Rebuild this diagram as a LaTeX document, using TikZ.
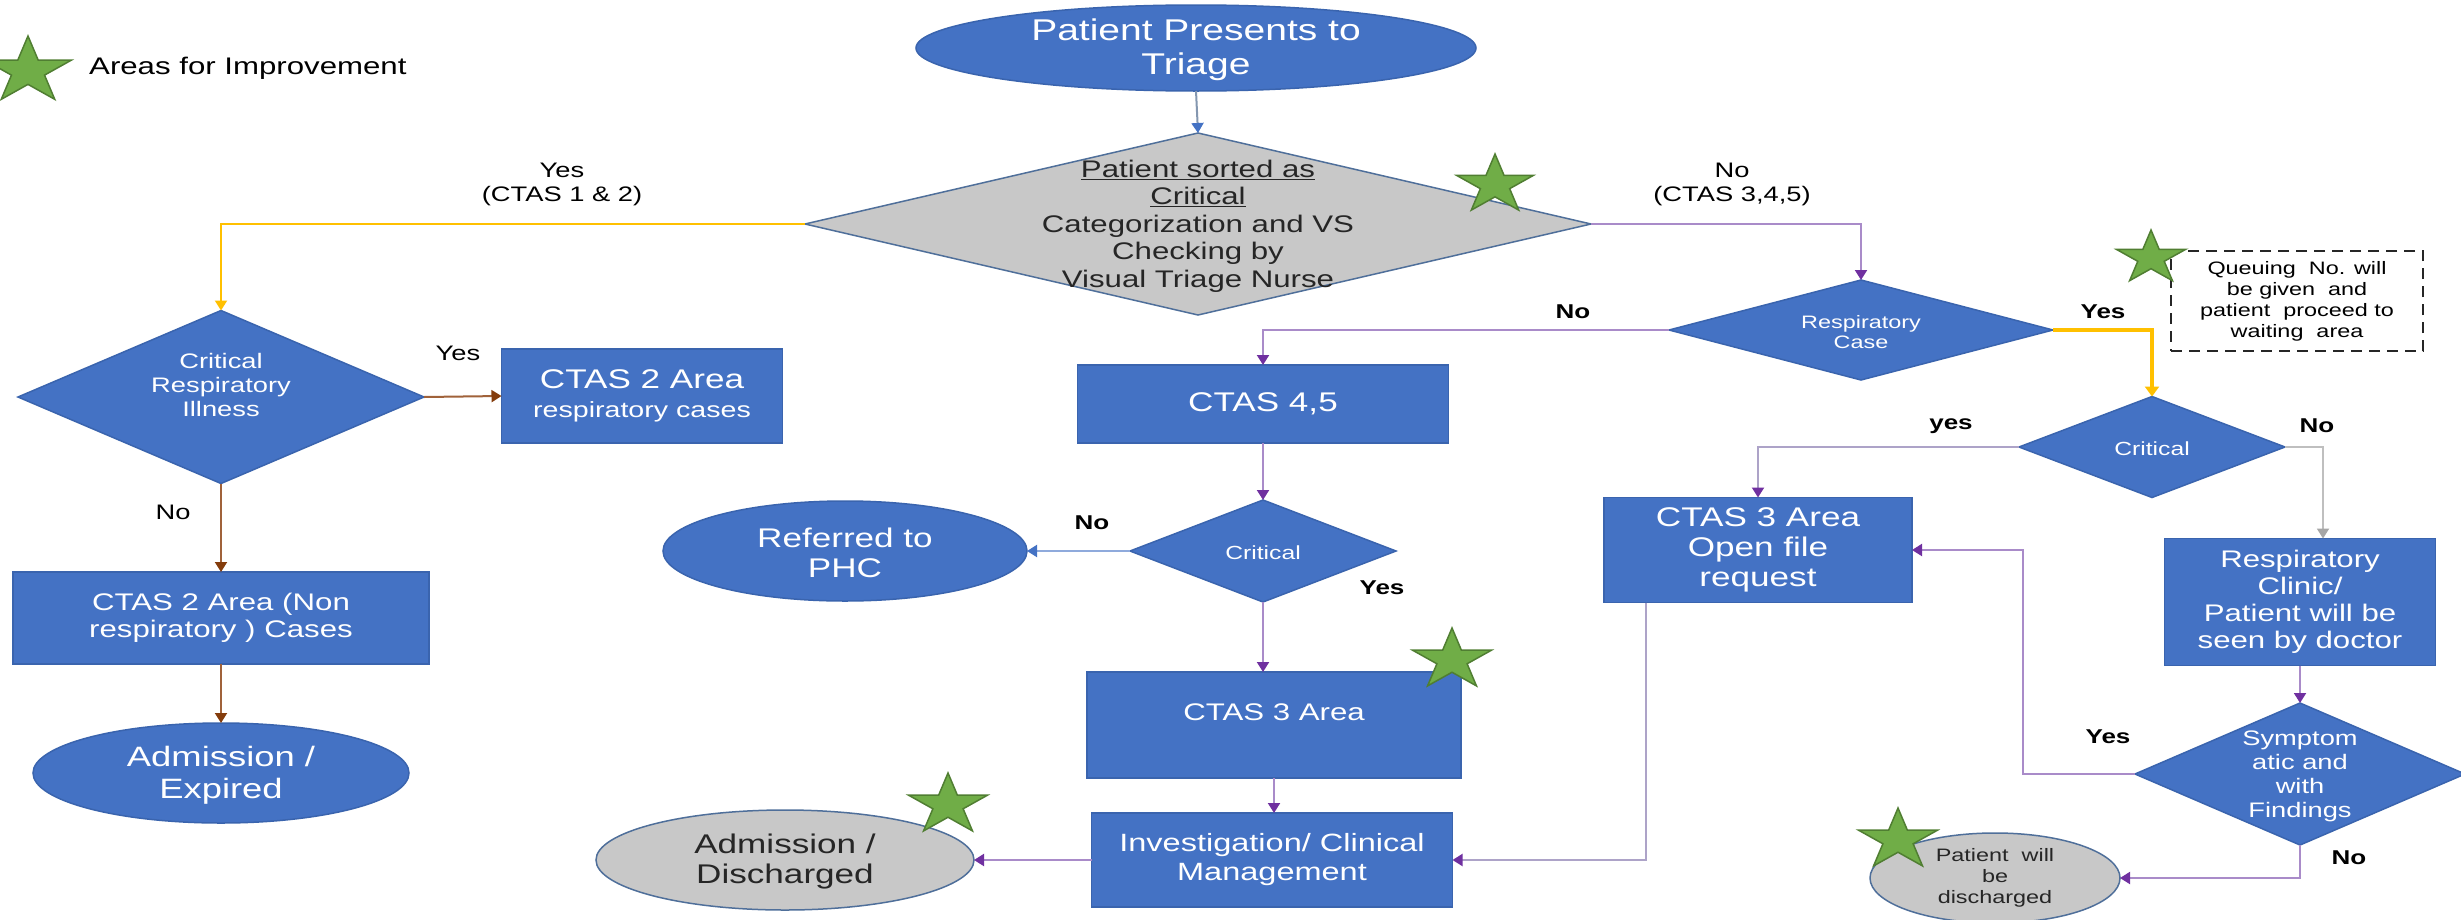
\documentclass[tikz,border=0pt]{standalone}
\usepackage{fontspec}
\setmainfont{Liberation Sans}[FakeStretch=1.3]
\usetikzlibrary{shapes.geometric,arrows.meta,calc}
\definecolor{boxblue}{HTML}{4472C4}
\definecolor{boxedge}{HTML}{3A64AE}
\definecolor{grayfill}{HTML}{C8C8C8}
\definecolor{grayedge}{HTML}{4F6F9A}
\definecolor{stargreen}{HTML}{70AD47}
\definecolor{staredge}{HTML}{507E32}
\definecolor{yel}{HTML}{FFC000}
\definecolor{brn}{HTML}{A0623A}
\definecolor{brntip}{HTML}{843C0C}
\definecolor{purp}{HTML}{A98BC9}
\definecolor{purptip}{HTML}{7030A0}
\definecolor{gpurp}{HTML}{ADA3C8}
\definecolor{lblue}{HTML}{8FAADC}
\definecolor{bgray}{HTML}{8497B0}
\definecolor{lgray}{HTML}{BFBFBF}
\definecolor{gtip}{HTML}{A6A6A6}
\definecolor{darktext}{HTML}{262626}
\newcommand\fsz[2]{\fontsize{#1bp}{#2bp}\selectfont}
\newcommand\gstar[4]{%
  \begin{scope}[shift={(#2,#3)}, xscale=1.3]
    \node[star, star points=5, star point ratio=2.618, minimum size=#4bp,
      fill=stargreen, draw=staredge, line width=1.5bp, inner sep=0pt,
      transform shape] (#1) at (0,0) {};
  \end{scope}}
\begin{document}
\begin{tikzpicture}[x=1bp,y=-1bp,
  shp/.style={inner sep=0pt, outer sep=0pt, line width=1.5bp},
  bluebox/.style={shp, rectangle, fill=boxblue, draw=boxedge, text=white, align=center},
  bluediam/.style={shp, diamond, fill=boxblue, draw=boxedge},
  blueell/.style={shp, ellipse, fill=boxblue, draw=boxedge},
  grayell/.style={shp, ellipse, fill=grayfill, draw=grayedge},
  graydiam/.style={shp, diamond, fill=grayfill, draw=grayedge},
  wtxt/.style={text=white, align=center, inner sep=0pt},
  dtxt/.style={text=darktext, align=center, inner sep=0pt},
  lab/.style={text=black, align=center, inner sep=0pt, font=\fsz{21}{24}},
  blab/.style={text=black, inner sep=0pt, font=\bfseries\fsz{20}{23}},
  conn/.style={line width=2bp},
  purparrow/.style={conn, draw=purp, -{Triangle[length=10bp,width=12bp,color=purptip]}},
  gpurparrow/.style={conn, draw=gpurp, -{Triangle[length=10bp,width=12bp,color=purptip]}},
  brnarrow/.style={conn, draw=brn, -{Triangle[length=10bp,width=12bp,color=brntip]}},
  yelarrow/.style={conn, draw=yel, -{Triangle[length=10bp,width=12bp,color=yel]}},
  yelthick/.style={line width=4bp, draw=yel, -{Triangle[length=10bp,width=14bp,color=yel]}},
  bluearrow/.style={conn, draw=bgray, -{Triangle[length=10bp,width=12bp,color=boxblue]}},
  lbluearrow/.style={conn, draw=lblue, -{Triangle[length=10bp,width=12bp,color=boxblue]}},
  grayarrow/.style={conn, draw=lgray, -{Triangle[length=10bp,width=12bp,color=gtip]}},
]
\fill[white] (0,0) rectangle (2461,919);
\useasboundingbox (0,0) rectangle (2461,919);

% ---------- shapes ----------
\node[blueell, minimum width=560bp, minimum height=86bp] (top) at (1196,48) {};
\node[wtxt, font=\fsz{30}{34}] (topT) at (1196,50) {Patient Presents to\\Triage};

\node[graydiam, minimum width=786bp, minimum height=182bp] (sort) at (1198,224) {};
\node[dtxt, font=\fsz{24}{27.5}] (sortT) at (1198,226) {\underline{Patient sorted as}\\\underline{Critical}\\Categorization and VS\\Checking by\\Visual Triage Nurse};

\node[bluediam, minimum width=406bp, minimum height=173bp] (cri) at (221,397) {};
\node[wtxt, font=\fsz{21}{24}] (criT) at (221,385) {Critical\\Respiratory\\Illness};

\node[bluebox, minimum width=281bp, minimum height=94bp, font=\fsz{22}{29}] (c2r) at (642,396)
  {{\fsz{27}{30}CTAS 2 Area}\\respiratory cases};

\node[bluebox, minimum width=416bp, minimum height=92bp, font=\fsz{24}{27}] (c2n) at (221,618)
  {CTAS 2 Area (Non\\respiratory ) Cases};

\node[blueell, minimum width=376bp, minimum height=100bp] (adex) at (221,773) {};
\node[wtxt, font=\fsz{28}{32}] (adexT) at (221,775) {Admission /\\Expired};

\node[bluebox, minimum width=371bp, minimum height=78bp, font=\fsz{27}{30}] (c45) at (1263,404) {CTAS 4,5};

\node[bluediam, minimum width=266bp, minimum height=102bp] (crit1) at (1263,551) {};
\node[wtxt, font=\fsz{19}{22}] (crit1T) at (1263,553) {Critical};

\node[blueell, minimum width=364bp, minimum height=100bp] (phc) at (845,551) {};
\node[wtxt, font=\fsz{27}{30}] (phcT) at (845,553) {Referred to\\PHC};

\node[bluebox, minimum width=374bp, minimum height=106bp] (c3) at (1274,725) {};
\node[wtxt, font=\fsz{24}{27}] (c3T) at (1274,712) {CTAS 3 Area};

\node[bluebox, minimum width=361bp, minimum height=94bp, font=\fsz{25}{29}] (inv) at (1272,860)
  {Investigation/ Clinical\\Management};

\node[grayell, minimum width=378bp, minimum height=100bp] (addis) at (785,860) {};
\node[dtxt, font=\fsz{27}{30}] (addisT) at (785,862) {Admission /\\Discharged};

\node[bluediam, minimum width=384bp, minimum height=100bp] (resp) at (1861,330) {};
\node[wtxt, font=\fsz{18}{20}] (respT) at (1861,332) {Respiratory\\Case};

\node[shp, rectangle, draw=black!85, line width=2.5bp, dash pattern=on 11bp off 7bp,
  minimum width=252bp, minimum height=100bp, align=center, font=\fsz{18}{21}] (queue) at (2297,301)
  {Queuing~ No. will\\be given~ and\\patient~ proceed to\\waiting~ area};

\node[bluediam, minimum width=266bp, minimum height=101bp] (crit2) at (2152,447) {};
\node[wtxt, font=\fsz{19}{22}] (crit2T) at (2152,449) {Critical};

\node[bluebox, minimum width=308bp, minimum height=105bp, font=\fsz{27}{30}] (c3o) at (1758,550)
  {CTAS 3 Area\\Open file\\request};

\node[bluebox, minimum width=271bp, minimum height=127bp, font=\fsz{24}{27}] (rc) at (2300,602)
  {Respiratory\\Clinic/\\Patient will be\\seen by doctor};

\node[bluediam, minimum width=330bp, minimum height=142bp] (sym) at (2300,774) {};
\node[wtxt, font=\fsz{21}{24}] (symT) at (2300,776) {Symptom\\atic and\\with\\Findings};

\node[grayell, minimum width=250bp, minimum height=90bp] (pdis) at (1995,878) {};
\node[dtxt, font=\fsz{18}{21}] (pdisT) at (1995,878) {Patient~ will\\be\\discharged};

% ---------- named bend / free-end coordinates ----------
\coordinate (rcin) at ($(rc.north)+(23,0)$);
\coordinate (symbend) at ($(sym.west)+(-112,0)$);
\coordinate (c3oout) at ($(c3o.south west)+(42,0)$);

% ---------- connectors ----------
\draw[bluearrow] (top.south) -- (sort.north);
\draw[yelarrow] (sort.west) -| (cri.north);
\draw[purparrow] (sort.east) -| (resp.north);
\draw[brnarrow] (cri.east) -- (c2r.west);
\draw[brnarrow] (cri.south) -- (c2n.north);
\draw[brnarrow] (c2n.south) -- (adex.north);
\draw[purparrow] (resp.west) -| (c45.north);
\draw[purparrow] (c45.south) -- (crit1.north);
\draw[lbluearrow] (crit1.west) -- (phc.east);
\draw[purparrow] (crit1.south) -- (crit1.south |- c3.north);
\draw[purparrow] (c3.south) -- (c3.south |- inv.north);
\draw[purparrow] (inv.west) -- (addis.east);
\draw[yelthick] (resp.east) -| (crit2.north);
\draw[gpurparrow] (crit2.west) -| (c3o.north);
\draw[grayarrow] (crit2.east) -| (rcin);
\draw[purparrow] (rc.south) -- (sym.north);
\draw[purparrow] (sym.west) -- (symbend) |- (c3o.east);
\draw[purparrow] (sym.south) |- (pdis.east);
\draw[gpurparrow] (c3oout) |- (inv.east);

% ---------- labels ----------
\node[lab] (l1) at (562,184) {Yes\\(CTAS 1 \& 2)};
\node[lab] (l2) at (1732,184) {No\\(CTAS 3,4,5)};
\node[lab] (l3) at (458,353) {Yes};
\node[lab] (l4) at (173,512) {No};
\node[blab] (l5) at (1573,312) {No};
\node[blab] (l6) at (2103,312) {Yes};
\node[blab] (l7) at (1951,426) {yes};
\node[blab] (l8) at (2317,426) {No};
\node[blab] (l9) at (1092,523) {No};
\node[blab] (l10) at (1382,588) {Yes};
\node[blab] (l11) at (2108,737) {Yes};
\node[blab] (l12) at (2349,858) {No};

% ---------- stars ----------
\gstar{s0}{28}{71}{70}
\node[anchor=west, inner sep=0pt, font=\fsz{24}{27}] (legT) at (89,68) {Areas for Improvement};
\gstar{s1}{1495}{185}{62}
\gstar{s2}{2151}{258}{56}
\gstar{s3}{1452}{660}{64}
\gstar{s4}{948}{805}{64}
\gstar{s5}{1898}{840}{64}
\end{tikzpicture}
\end{document}
